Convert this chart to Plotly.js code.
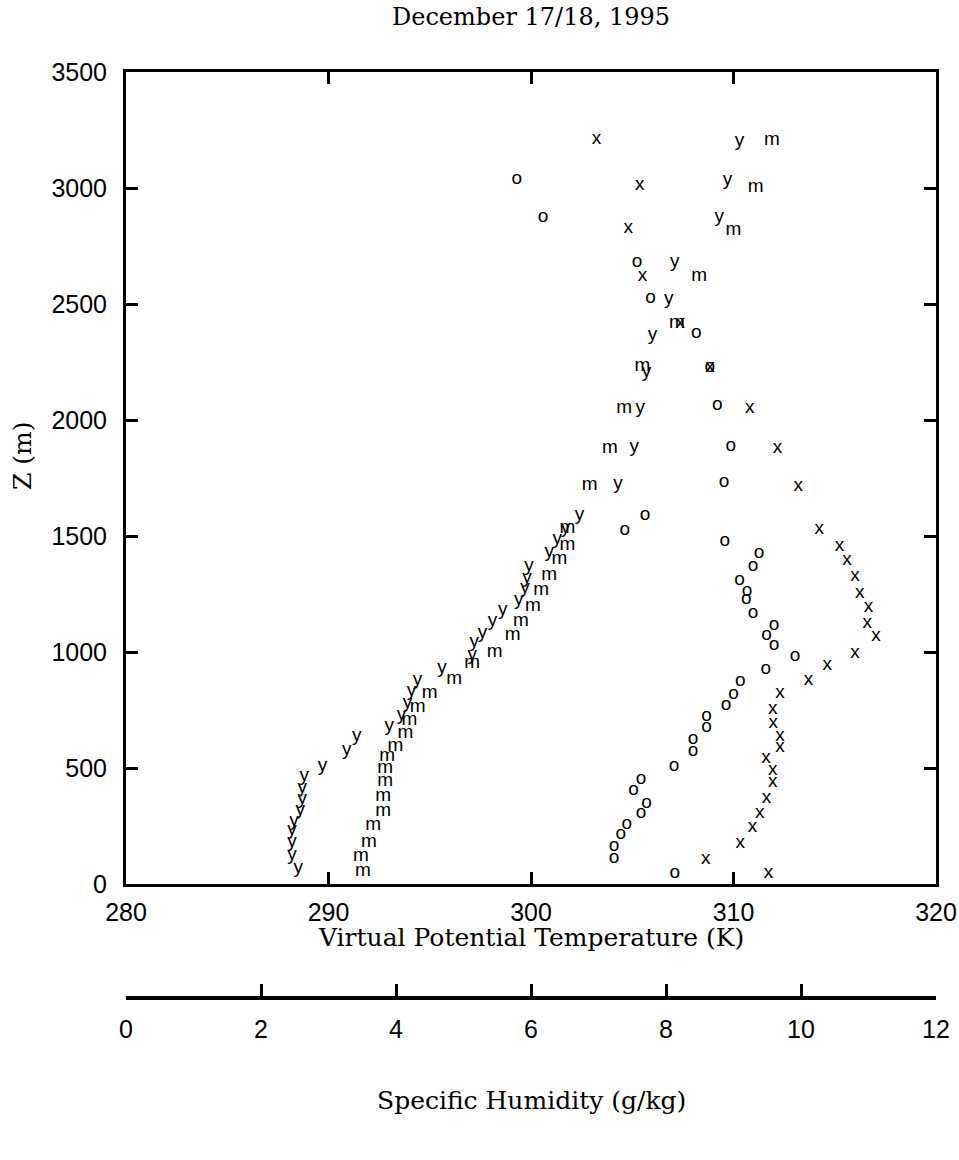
<!DOCTYPE html>
<html>
<head>
<meta charset="utf-8">
<script src="https://cdn.plot.ly/plotly-3.0.1.min.js"></script>
<style>
  html, body { margin: 0; padding: 0; background: #ffffff; }
  #chart { width: 959px; height: 1160px; }
</style>
</head>
<body>
<div id="chart"></div>
<script>
// Virtual potential temperature (K) vs height (m): "y" profile
const yTheta = [310.3,309.7,309.3,307.1,306.8,306.0,305.7,305.4,305.1,304.3,302.4,301.7,301.3,300.9,299.9,299.8,299.7,299.4,298.6,298.1,297.6,297.2,297.1,295.6,294.4,294.1,293.9,293.6,293.0,291.4,290.9,289.7,288.8,288.7,288.7,288.6,288.3,288.2,288.2,288.2,288.5];
const yZ = [3200,3034,2876,2678,2520,2366,2207,2052,1884,1724,1591,1534,1486,1432,1368,1318,1275,1224,1181,1131,1081,1044,987,930,879,829,779,728,678,635,578,506,466,412,365,319,269,233,182,125,68];

// Virtual potential temperature (K): "m" profile
const mTheta = [311.9,311.1,310.0,308.3,307.2,305.5,304.6,303.9,302.9,301.8,301.8,301.4,300.9,300.5,300.1,299.5,299.1,298.2,297.1,296.2,295.0,294.4,294.0,293.8,293.3,292.9,292.8,292.8,292.7,292.7,292.2,292.0,291.6,291.7];
const mZ = [3207,3003,2819,2618,2419,2233,2052,1878,1720,1533,1461,1400,1332,1267,1198,1131,1073,1001,951,882,822,764,707,650,595,549,499,441,379,312,254,182,118,53];

// Specific humidity (g/kg): "o" profile
const oQ = [5.79,6.18,7.57,7.77,8.45,8.65,8.76,8.96,8.86,7.69,7.39,8.87,9.38,9.29,9.09,9.20,9.19,9.29,9.60,9.49,9.60,9.91,9.48,9.10,9.00,8.89,8.60,8.60,8.40,8.40,8.12,7.63,7.52,7.71,7.63,7.42,7.33,7.23,7.23,8.13];
const oZ = [3037,2874,2678,2525,2374,2227,2065,1885,1730,1588,1526,1476,1425,1368,1310,1264,1227,1169,1116,1073,1030,983,925,872,819,772,721,675,624,573,509,451,402,350,305,259,216,164,111,46];

// Specific humidity (g/kg): "x" profile
const xQ = [6.97,7.61,7.44,7.65,8.21,8.65,9.24,9.65,9.96,10.27,10.57,10.68,10.80,10.87,11.00,10.98,11.11,10.80,10.39,10.11,9.69,9.58,9.59,9.69,9.69,9.48,9.58,9.58,9.49,9.39,9.28,9.10,8.59,9.52];
const xZ = [3210,3010,2826,2618,2419,2227,2050,1878,1713,1529,1454,1394,1328,1253,1193,1124,1066,994,944,879,822,753,695,638,588,542,491,437,369,305,244,175,106,46];

// Axis ticks and labels
const thetaTicks = [280,290,300,310,320];
const zTicks = [0,500,1000,1500,2000,2500,3000,3500];
const qTicks = [0,2,4,6,8,10,12];
const qTickMarks = [2,4,6,8,10];

const titleText = "December 17/18, 1995";
const xTitle = "Virtual Potential Temperature (K)";
const x2Title = "Specific Humidity (g/kg)";
const yTitle = "Z (m)";

const letterFont = {family: "Liberation Sans, Arial, sans-serif", size: 19, color: "#000"};
function letters(ch, n) { return Array(n).fill(ch); }

const traces = [
  {x: yTheta, y: yZ, xaxis: "x", yaxis: "y", mode: "text", text: letters("y", yTheta.length),
   textposition: "middle center", textfont: letterFont, hoverinfo: "x+y", showlegend: false},
  {x: mTheta, y: mZ, xaxis: "x", yaxis: "y", mode: "text", text: letters("m", mTheta.length),
   textposition: "middle center", textfont: letterFont, hoverinfo: "x+y", showlegend: false},
  {x: oQ, y: oZ, xaxis: "x2", yaxis: "y", mode: "text", text: letters("o", oQ.length),
   textposition: "middle center", textfont: letterFont, hoverinfo: "x+y", showlegend: false},
  {x: xQ, y: xZ, xaxis: "x2", yaxis: "y", mode: "text", text: letters("x", xQ.length),
   textposition: "middle center", textfont: letterFont, hoverinfo: "x+y", showlegend: false}
];

const tickFont = {family: "Liberation Sans, Arial, sans-serif", size: 25, color: "#000"};
const serifFont = {family: "DejaVu Serif, Liberation Serif, serif", size: 25, color: "#000"};

const plotTop = 72, plotBottomMain = 884, axis2Y = 997, plotLeft = 126, plotRight = 936;
const H = 1160, W = 959;
const areaH = axis2Y - plotTop;
const areaW = plotRight - plotLeft;
const mainDomainBottom = (axis2Y - plotBottomMain) / areaH;

function py(pix) { return (axis2Y - pix) / areaH; }
function px(pix) { return (pix - plotLeft) / areaW; }

const layout = {
  width: W, height: H,
  paper_bgcolor: "#fff", plot_bgcolor: "#fff",
  margin: {l: plotLeft, r: W - plotRight, t: plotTop, b: H - axis2Y, pad: 0},
  title: {text: titleText, font: Object.assign({}, serifFont, {size: 24}), x: px(531), xref: "paper", xanchor: "center",
          y: 1 - 17 / H, yref: "container", yanchor: "middle"},
  xaxis: {
    range: [280, 320], domain: [0, 1], anchor: "y",
    tickmode: "array", tickvals: thetaTicks, ticktext: thetaTicks.map(String),
    ticks: "inside", ticklen: 12, tickwidth: 3, tickcolor: "#000",
    showline: true, linewidth: 3, linecolor: "#000", mirror: "ticks",
    showgrid: false, zeroline: false, tickfont: tickFont, ticklabelstandoff: 4
  },
  yaxis: {
    range: [0, 3500], domain: [mainDomainBottom, 1], anchor: "x",
    tickmode: "array", tickvals: zTicks, ticktext: zTicks.map(String),
    ticks: "inside", ticklen: 12, tickwidth: 3, tickcolor: "#000",
    showline: true, linewidth: 3, linecolor: "#000", mirror: "ticks",
    showgrid: false, zeroline: false, tickfont: tickFont, ticklabelstandoff: 11
  },
  xaxis2: {
    range: [0, 12], domain: [0, 1], anchor: "free", position: 0, overlaying: "x", side: "bottom",
    tickmode: "array", tickvals: qTicks, ticktext: qTicks.map(String),
    ticks: "", showline: true, linewidth: 3.5, linecolor: "#000",
    minor: {tickmode: "array", tickvals: qTickMarks, ticks: "inside", ticklen: 12, tickwidth: 3, tickcolor: "#000", showgrid: false},
    showgrid: false, zeroline: false, tickfont: tickFont, ticklabelstandoff: 8
  },
  annotations: [
    {text: xTitle, xref: "paper", yref: "paper", x: px(531), y: py(937), xanchor: "center", yanchor: "middle",
     showarrow: false, font: serifFont},
    {text: x2Title, xref: "paper", yref: "paper", x: px(531), y: py(1100), xanchor: "center", yanchor: "middle",
     showarrow: false, font: serifFont},
    {text: yTitle, xref: "paper", yref: "paper", x: px(22), y: py(455), xanchor: "center", yanchor: "middle",
     textangle: -90, showarrow: false, font: serifFont}
  ]
};

Plotly.newPlot("chart", traces, layout, {displayModeBar: false, staticPlot: true});
</script>
</body>
</html>
